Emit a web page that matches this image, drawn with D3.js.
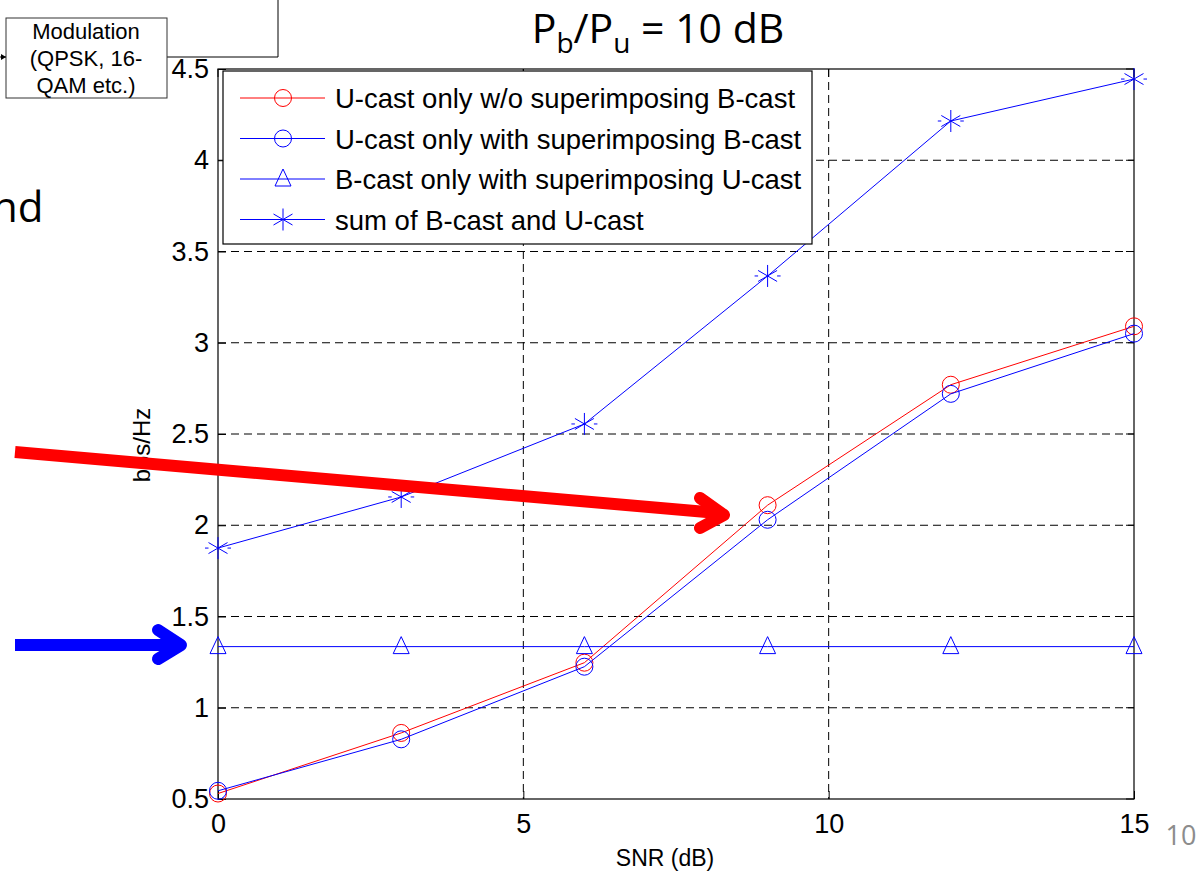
<!DOCTYPE html>
<html>
<head>
<meta charset="utf-8">
<script src="https://cdn.jsdelivr.net/npm/d3@7"></script>
<style>
  body { margin: 0; background: #fff; }
  svg { display: block; }
  text { font-family: "Liberation Sans", Arial, sans-serif; }
</style>
</head>
<body>
<svg id="chart" width="1204" height="875"></svg>
<script>
// values
var snr = [0, 3, 6, 9, 12, 15];
var ucastNoSup = [0.53, 0.862, 1.247, 2.11, 2.77, 3.09];
var ucastSup = [0.545, 0.827, 1.225, 2.03, 2.72, 3.05];
var bcastSup = [1.335, 1.335, 1.335, 1.335, 1.335, 1.335];
var sumBU = [1.875, 2.155, 2.555, 3.366, 4.215, 4.445];

var xTicks = [0, 5, 10, 15];
var yTicks = [0.5, 1, 1.5, 2, 2.5, 3, 3.5, 4, 4.5];
var legendNames = ["U-cast only w/o superimposing B-cast", "U-cast only with superimposing B-cast",
                   "B-cast only with superimposing U-cast", "sum of B-cast and U-cast"];

var svg = d3.select("#chart");
var pLeft = 218, pRight = 1134, pTop = 69, pBottom = 799;

var x = d3.scaleLinear().domain([0, 15]).range([pLeft, pRight]);
var y = d3.scaleLinear().domain([0.5, 4.5]).range([pBottom, pTop]);

// slide leftovers: block diagram box
svg.append("path").attr("d", "M278,0 V57 H167").attr("fill", "none").attr("stroke", "#000").attr("stroke-width", 1);
svg.append("rect").attr("x", 6).attr("y", 18).attr("width", 161).attr("height", 80)
  .attr("fill", "#fff").attr("stroke", "#333").attr("stroke-width", 1);
svg.append("path").attr("d", "M0,57 H6").attr("stroke", "#000");
svg.append("path").attr("d", "M1,54 L6,57 L1,60 Z").attr("fill", "#000");
["Modulation", "(QPSK, 16-", "QAM etc.)"].forEach(function(t, i) {
  svg.append("text").attr("x", 86).attr("y", 39 + i * 27).attr("text-anchor", "middle")
    .style("font-size", "22px").text(t);
});

svg.append("text").attr("x", -8).attr("y", 222).style("font-family", "'Open Sans', Lato, sans-serif")
  .style("font-size", "42px").text("nd");

// title
var title = svg.append("text").attr("x", 658).attr("y", 43).attr("text-anchor", "middle")
  .style("font-family", "'Open Sans', Lato, sans-serif").style("font-size", "41px");
title.append("tspan").text("P");
title.append("tspan").attr("dy", 10).style("font-size", "28px").text("b");
title.append("tspan").attr("dy", -10).text("/P");
title.append("tspan").attr("dy", 10).style("font-size", "28px").text("u");
title.append("tspan").attr("dy", -10).text(" = 10 dB");

// grid
var g = svg.append("g");
g.selectAll(".gx").data(xTicks.slice(1, -1)).enter().append("line")
  .attr("x1", function(d) { return x(d); }).attr("x2", function(d) { return x(d); })
  .attr("y1", pTop).attr("y2", pBottom)
  .attr("stroke", "#000").attr("stroke-width", 1).attr("stroke-dasharray", "8,5");
g.selectAll(".gy").data(yTicks.slice(1, -1)).enter().append("line")
  .attr("x1", pLeft).attr("x2", pRight)
  .attr("y1", function(d) { return y(d); }).attr("y2", function(d) { return y(d); })
  .attr("stroke", "#000").attr("stroke-width", 1).attr("stroke-dasharray", "8,5");

// axes
var xAxis = d3.axisBottom(x).tickValues(xTicks).tickSize(-8).tickPadding(15).tickFormat(d3.format("d"));
var yAxis = d3.axisLeft(y).tickValues(yTicks).tickSize(-8).tickPadding(9).tickFormat(function(d) { return String(d); });
var xa = svg.append("g").attr("transform", "translate(0," + pBottom + ")").call(xAxis);
var ya = svg.append("g").attr("transform", "translate(" + pLeft + ",0)").call(yAxis);
[xa, ya].forEach(function(a) {
  a.select(".domain").remove();
  a.selectAll("line").attr("stroke", "#000");
  a.selectAll("text").style("font-size", "27px").attr("fill", "#000");
});
svg.append("rect").attr("x", pLeft).attr("y", pTop).attr("width", pRight - pLeft).attr("height", pBottom - pTop)
  .attr("fill", "none").attr("stroke", "#000").attr("stroke-width", 1.2);
// right/top ticks
svg.selectAll(".tr").data(yTicks).enter().append("line")
  .attr("x1", pRight - 8).attr("x2", pRight).attr("y1", function(d) { return y(d); }).attr("y2", function(d) { return y(d); })
  .attr("stroke", "#000");
svg.selectAll(".tt").data(xTicks).enter().append("line")
  .attr("y1", pTop).attr("y2", pTop + 8).attr("x1", function(d) { return x(d); }).attr("x2", function(d) { return x(d); })
  .attr("stroke", "#000");

svg.append("text").attr("x", 665).attr("y", 866).attr("text-anchor", "middle").style("font-size", "23px").text("SNR (dB)");
svg.append("text").attr("transform", "translate(150,445) rotate(-90)").attr("text-anchor", "middle")
  .style("font-size", "24px").text("bps/Hz");

// series
var line = d3.line().x(function(d, i) { return x(snr[i]); }).y(function(d) { return y(d); });
var series = [
  { v: ucastNoSup, c: "#ff0000", m: "circle" },
  { v: ucastSup, c: "#0000ff", m: "circle" },
  { v: bcastSup, c: "#0000ff", m: "triangle" },
  { v: sumBU, c: "#0000ff", m: "star" }
];

function marker(sel, type, c) {
  if (type === "circle") {
    sel.append("circle").attr("r", 8.5).attr("fill", "none").attr("stroke", c).attr("stroke-width", 1);
  } else if (type === "triangle") {
    sel.append("path").attr("d", "M0,-10 L8,7 L-8,7 Z").attr("fill", "none").attr("stroke", c).attr("stroke-width", 1);
  } else {
    sel.append("path").attr("d", "M0,-11 V11 M-9.5,-5.5 L9.5,5.5 M-9.5,5.5 L9.5,-5.5 M-13,0 H-9.5 M9.5,0 H13")
      .attr("fill", "none").attr("stroke", c).attr("stroke-width", 1);
  }
}

series.forEach(function(s) {
  svg.append("path").datum(s.v).attr("d", line).attr("fill", "none").attr("stroke", s.c).attr("stroke-width", 1);
  svg.selectAll(null).data(s.v).enter().append("g")
    .attr("transform", function(d, i) { return "translate(" + x(snr[i]) + "," + y(d) + ")"; })
    .each(function() { marker(d3.select(this), s.m, s.c); });
});

// legend
var lg = svg.append("g");
lg.append("rect").attr("x", 223).attr("y", 71).attr("width", 589).attr("height", 173)
  .attr("fill", "#fff").attr("stroke", "#000").attr("stroke-width", 1.2);
legendNames.forEach(function(name, i) {
  var yy = 98 + i * 40.5;
  lg.append("line").attr("x1", 240).attr("x2", 325).attr("y1", yy).attr("y2", yy)
    .attr("stroke", series[i].c).attr("stroke-width", 1);
  var mk = lg.append("g").attr("transform", "translate(283," + yy + ")");
  marker(mk, series[i].m, series[i].c);
  lg.append("text").attr("x", 335).attr("y", yy + 10).style("font-size", "27.5px").text(name);
});

// slide annotation arrows
svg.append("path").attr("d", "M15,452 L718,513").attr("stroke", "#ff0000").attr("stroke-width", 12).attr("fill", "none");
svg.append("path").attr("d", "M700,498 L724,515 L700,528").attr("stroke", "#ff0000").attr("stroke-width", 12)
  .attr("fill", "none").attr("stroke-linecap", "round").attr("stroke-linejoin", "round");
svg.append("path").attr("d", "M15,645 L178,645").attr("stroke", "#0000ff").attr("stroke-width", 12).attr("fill", "none");
svg.append("path").attr("d", "M158,630 L181,645 L158,659").attr("stroke", "#0000ff").attr("stroke-width", 12)
  .attr("fill", "none").attr("stroke-linecap", "round").attr("stroke-linejoin", "round");

// page number
svg.append("text").attr("x", 1181).attr("y", 845).attr("text-anchor", "middle")
  .style("font-family", "'Open Sans', Lato, sans-serif").style("font-size", "27px").attr("fill", "#8c8c8c").text("10");
</script>
</body>
</html>
